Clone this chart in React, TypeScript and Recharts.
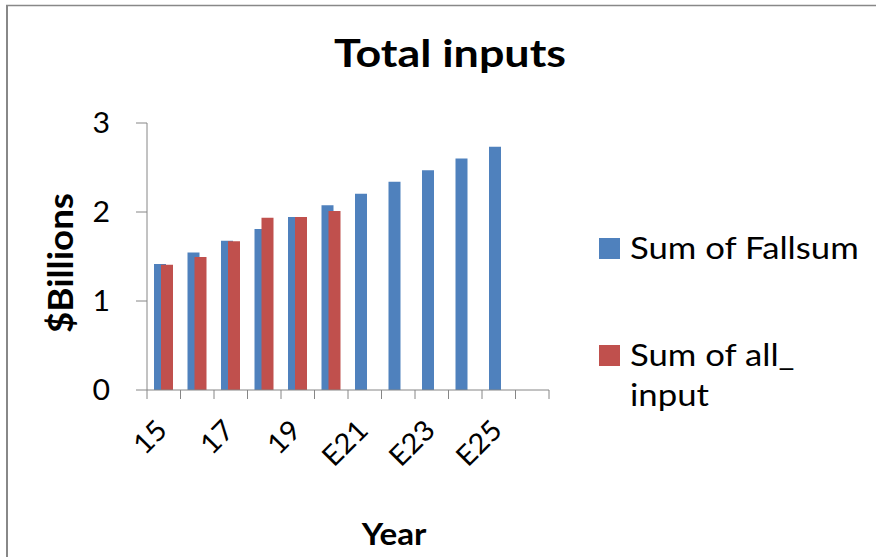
import React from 'react'
import { BarChart, Bar, XAxis, YAxis, Legend, Label } from 'recharts'

// categories (pivot chart, last one is the empty "(blank)" slot)
const years = ['15', '16', '17', '18', '19', 'E20', 'E21', 'E22', 'E23', 'E24', 'E25', '(blank)']
const fallsum = [1.415, 1.546, 1.678, 1.81, 1.945, 2.075, 2.204, 2.339, 2.47, 2.6, 2.733, null]
const allInput = [1.408, 1.494, 1.67, 1.934, 1.945, 2.012, null, null, null, null, null, null]
const yTicks = [0, 1, 2, 3]

const data = years.map((year, i) => ({
  year,
  fallsum: fallsum[i],
  allInput: allInput[i]
}))

const font = 'Lato, "Open Sans", sans-serif'
const axisGrey = '#868686'
const blue = '#4F81BD'
const red = '#C0504D'

// the source picture is a bit wider than tall, so text gets a small horizontal stretch
const WideText = ({ x, y, angle = 0, sx = 1, size, bold = false, anchor = 'middle', children }: any) => (
  <text
    transform={`translate(${x},${y}) rotate(${angle}) scale(${sx},1)`}
    textAnchor={anchor}
    fontSize={size}
    fontWeight={bold ? 'bold' : 'normal'}
    fontFamily={font}
    fill='#000'
  >
    {children}
  </text>
)

const YearTick = (props: any) => {
  const { x, y, payload } = props
  const idx = props.index ?? payload.index
  const half = payload.offset || 16.75
  return (
    <g>
      <line x1={x - half} x2={x - half} y1={y} y2={y + 9} stroke={axisGrey} />
      {idx === years.length - 1 && (
        <line x1={x + half} x2={x + half} y1={y} y2={y + 9} stroke={axisGrey} />
      )}
      {idx % 2 === 0 && (
        <WideText x={x + 5} y={y + 42} angle={-45} sx={1.05} size={28} anchor='end'>
          {payload.value}
        </WideText>
      )}
    </g>
  )
}

const ValueTick = (props: any) => {
  const { x, y, payload } = props
  return (
    <WideText x={x} y={y + 10} sx={1.08} size={28} anchor='end'>
      {payload.value}
    </WideText>
  )
}

const YTitle = () => (
  <WideText x={73} y={263} angle={-90} sx={1.08} size={34} bold>
    $Billions
  </WideText>
)

const XTitle = () => (
  <WideText x={394} y={545} sx={1.07} size={31} bold>
    Year
  </WideText>
)

const LegendBox = (props: any) => {
  const items = props.payload || []
  return (
    <svg width={270} height={200} style={{ display: 'block', overflow: 'visible' }}>
      {items.map((item: any, i: number) => {
        const top = i * 107
        const name: string = item.value
        const cut = name.indexOf('_')
        const lines = cut >= 0 ? [name.slice(0, cut + 1), name.slice(cut + 1)] : [name]
        return (
          <g key={name}>
            <rect x={0} y={top + 2} width={21} height={21} fill={item.color} />
            <text
              transform={`translate(31,${top + 23}) scale(1.12,1)`}
              fontSize={31}
              fontFamily={font}
              fill='#000'
            >
              {lines.map((line, j) => (
                <tspan key={j} x={0} dy={j === 0 ? 0 : 40}>
                  {line}
                </tspan>
              ))}
            </text>
          </g>
        )
      })}
    </svg>
  )
}

const App = () => {
  return (
    <div style={{ position: 'absolute', left: 0, top: 0, width: 876, height: 557, background: '#fff' }}>
      <BarChart
        width={876}
        height={557}
        data={data}
        margin={{ top: 123, right: 327, bottom: 0, left: 0 }}
        barGap={-5}
        barSize={12}
      >
        <XAxis
          dataKey='year'
          height={167}
          interval={0}
          tickSize={0}
          tickMargin={0}
          tickLine={false}
          axisLine={{ stroke: axisGrey }}
          tick={<YearTick />}
        >
          <Label content={<XTitle />} />
        </XAxis>
        <YAxis
          width={147}
          domain={[0, 3]}
          ticks={yTicks}
          tickSize={11}
          tickMargin={26}
          axisLine={{ stroke: axisGrey }}
          tickLine={{ stroke: axisGrey }}
          tick={<ValueTick />}
        >
          <Label content={<YTitle />} />
        </YAxis>
        <Legend
          layout='vertical'
          align='center'
          verticalAlign='middle'
          wrapperStyle={{ left: 599, top: 236, width: 270 }}
          content={<LegendBox />}
        />
        <Bar name='Sum of Fallsum' dataKey='fallsum' fill={blue} isAnimationActive={false} />
        <Bar name='Sum of all_input' dataKey='allInput' fill={red} isAnimationActive={false} />
      </BarChart>
      <svg
        width={876}
        height={557}
        style={{ position: 'absolute', left: 0, top: 0, pointerEvents: 'none' }}
      >
        <line x1={7} x2={7} y1={5} y2={557} stroke='#888' strokeWidth={2} />
        <line x1={6} x2={876} y1={5.5} y2={5.5} stroke='#888' strokeWidth={1.5} />
        <WideText x={450} y={67} sx={1.15} size={39} bold>
          Total inputs
        </WideText>
      </svg>
    </div>
  )
}

export default App
